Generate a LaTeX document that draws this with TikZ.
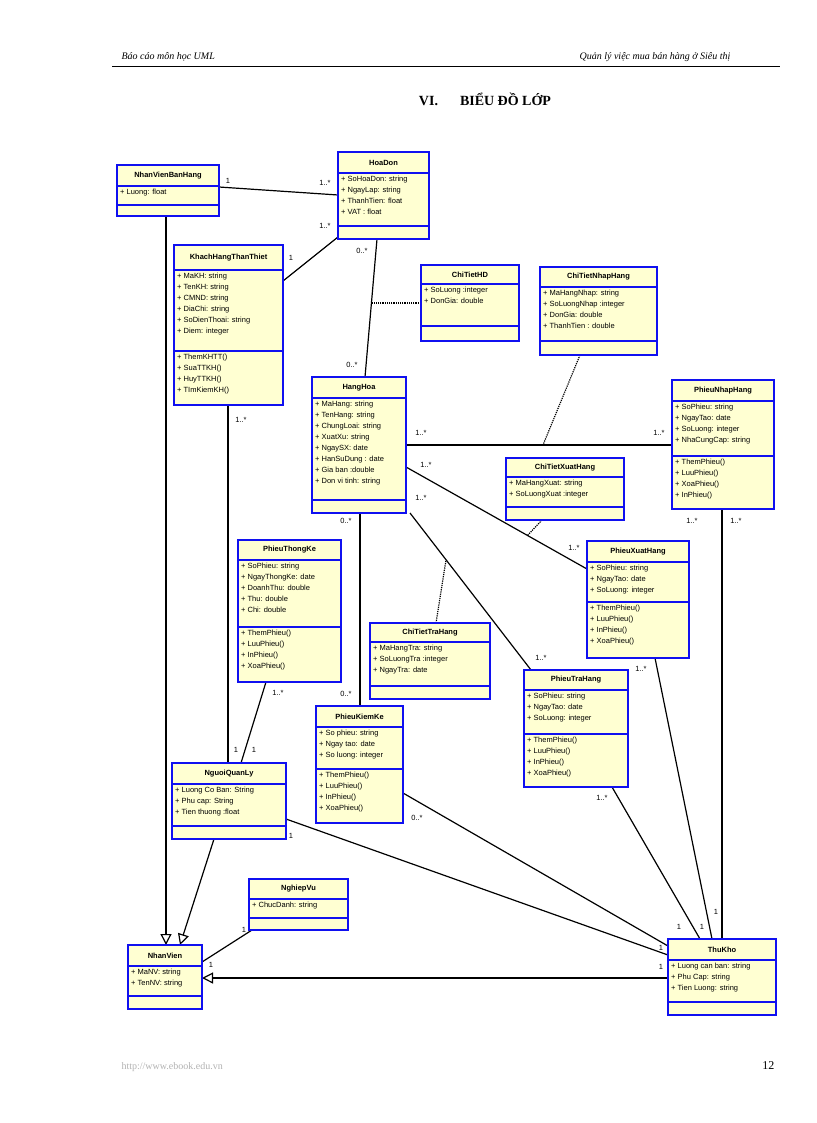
\documentclass[tikz,border=0pt]{standalone}
\usepackage{fontspec}
\setmainfont{Liberation Serif}
\newfontfamily\ar{Liberation Sans}
\usetikzlibrary{fit,arrows.meta}
\definecolor{fillc}{HTML}{FFFFD2}
\definecolor{bord}{HTML}{1010F0}
\tikzset{
 cbox/.style={fill=fillc,draw=bord,line width=1.3pt},
 ctitle/.style={font=\ar\fontsize{7.5}{9}\selectfont\bfseries,inner sep=0},
 ctext/.style={font=\ar\fontsize{7.5}{11}\selectfont,align=left,anchor=north west,inner sep=0},
 assoc/.style={line width=1.2pt},
 dep/.style={line width=1.2pt,densely dotted},
 gen/.style={line width=1.2pt,-{Triangle[open,length=11pt,width=11pt]}},
 lab/.style={font=\ar\fontsize{7.5}{9}\selectfont,inner sep=0}
}
\newcommand\cls[9]{%
 \path[cbox] (#2,#3) rectangle (#4,#7);
 \draw[draw=bord,line width=1.3pt] (#2,#5) -- (#4,#5) (#2,#6) -- (#4,#6);
 \node[fit={(#2,#3) (#4,#7)},inner sep=0] (#1) {};
 \node[ctitle] at ({(#2+#4)/2},{(#3+#5)/2}) {#8};
 \node[ctext] at (#2+3,#5+3) {#9};}
\newcommand\ops[3]{\node[ctext] at (#1+3,#2+3) {#3};}
\begin{document}
\begin{tikzpicture}[x=1pt,y=-1pt]
\useasboundingbox (0,0) rectangle (816,1123);
\node[anchor=base west,font=\itshape\fontsize{10}{12}\selectfont] (h1) at (118,60) {Báo cáo môn học UML};
\node[anchor=base east,font=\itshape\fontsize{10}{12}\selectfont] (h2) at (734,60) {Quản lý việc mua bán hàng ở Siêu thị};
\draw[line width=0.8pt] (112,66) -- (780,66);
\node[font=\bfseries\fontsize{14}{16}\selectfont] (tt) at (485,99) {VI.\hspace{22pt}BIỂU ĐỒ LỚP};
\node[anchor=base west,text=gray!60,font=\fontsize{10}{12}\selectfont] (ft) at (118,1069) {http://www.ebook.edu.vn};
\node[anchor=base east,font=\fontsize{12}{14}\selectfont] (pg) at (778,1069) {12};

% connectors first
\draw[assoc] (219,187) -- (338,195);
\draw[assoc] (283,281) -- (338,237);
\draw[assoc] (377,239) -- (365,377);
\draw[dep] (421,303) -- (371,303);
\draw[assoc] (406,445) -- (672,445);
\draw[dep] (580,355) -- (543,445);
\draw[assoc] (406,467) -- (587,569);
\draw[dep] (542,520) -- (527,536);
\draw[assoc] (410,513) -- (531,670);
\draw[dep] (436,623) -- (446,560);
\draw[assoc] (360,513) -- (360,706);
\draw[assoc] (228,405) -- (228,763);
\draw[assoc] (266,682) -- (241,763);
\draw[assoc] (286,819) -- (668,955);
\draw[assoc] (403,793) -- (668,946);
\draw[assoc] (612,787) -- (700,939);
\draw[assoc] (655,658) -- (712,939);
\draw[assoc] (722,509) -- (722,939);
\draw[gen] (668,978) -- (202,978);
\draw[gen] (166,216) -- (166,945);
\draw[gen] (214,839) -- (180,945);
\draw[assoc] (252,930) -- (202,962);

\cls{nvbh}{117}{165}{219}{186}{205}{216}{NhanVienBanHang}{+ Luong: float}
\cls{hd}{338}{152}{429}{173}{226}{239}{HoaDon}{+ SoHoaDon: string\\+ NgayLap: string\\+ ThanhTien: float\\+ VAT : float}
\cls{kh}{174}{245}{283}{270}{351}{405}{KhachHangThanThiet}{+ MaKH: string\\+ TenKH: string\\+ CMND: string\\+ DiaChi: string\\+ SoDienThoai: string\\+ Diem: integer}
\ops{174}{351}{+ ThemKHTT()\\+ SuaTTKH()\\+ HuyTTKH()\\+ TImKiemKH()}
\cls{cthd}{421}{265}{519}{284}{326}{341}{ChiTietHD}{+ SoLuong :integer\\+ DonGia: double}
\cls{ctnh}{540}{267}{657}{287}{341}{355}{ChiTietNhapHang}{+ MaHangNhap: string\\+ SoLuongNhap :integer\\+ DonGia: double\\+ ThanhTien : double}
\cls{hh}{312}{377}{406}{398}{500}{513}{HangHoa}{+ MaHang: string\\+ TenHang: string\\+ ChungLoai: string\\+ XuatXu: string\\+ NgaySX: date\\+ HanSuDung : date\\+ Gia ban :double\\+ Don vi tinh: string}
\cls{pnh}{672}{380}{774}{401}{456}{509}{PhieuNhapHang}{+ SoPhieu: string\\+ NgayTao: date\\+ SoLuong: integer\\+ NhaCungCap: string}
\ops{672}{456}{+ ThemPhieu()\\+ LuuPhieu()\\+ XoaPhieu()\\+ InPhieu()}
\cls{ctxh}{506}{458}{624}{477}{507}{520}{ChiTietXuatHang}{+ MaHangXuat: string\\+ SoLuongXuat :integer}
\cls{pxh}{587}{541}{689}{562}{602}{658}{PhieuXuatHang}{+ SoPhieu: string\\+ NgayTao: date\\+ SoLuong: integer}
\ops{587}{602}{+ ThemPhieu()\\+ LuuPhieu()\\+ InPhieu()\\+ XoaPhieu()}
\cls{ptk}{238}{540}{341}{560}{627}{682}{PhieuThongKe}{+ SoPhieu: string\\+ NgayThongKe: date\\+ DoanhThu: double\\+ Thu: double\\+ Chi: double}
\ops{238}{627}{+ ThemPhieu()\\+ LuuPhieu()\\+ InPhieu()\\+ XoaPhieu()}
\cls{ctth}{370}{623}{490}{642}{686}{699}{ChiTietTraHang}{+ MaHangTra: string\\+ SoLuongTra :integer\\+ NgayTra: date}
\cls{pth}{524}{670}{628}{690}{734}{787}{PhieuTraHang}{+ SoPhieu: string\\+ NgayTao: date\\+ SoLuong: integer}
\ops{524}{734}{+ ThemPhieu()\\+ LuuPhieu()\\+ InPhieu()\\+ XoaPhieu()}
\cls{pkk}{316}{706}{403}{727}{769}{823}{PhieuKiemKe}{+ So phieu: string\\+ Ngay tao: date\\+ So luong: integer}
\ops{316}{769}{+ ThemPhieu()\\+ LuuPhieu()\\+ InPhieu()\\+ XoaPhieu()}
\cls{nql}{172}{763}{286}{784}{826}{839}{NguoiQuanLy}{+ Luong Co Ban: String\\+ Phu cap: String\\+ Tien thuong :float}
\cls{nv2}{249}{879}{348}{899}{918}{930}{NghiepVu}{+ ChucDanh: string}
\cls{nv}{128}{945}{202}{966}{996}{1009}{NhanVien}{+ MaNV: string\\+ TenNV: string}
\cls{tk}{668}{939}{776}{960}{1002}{1015}{ThuKho}{+ Luong can ban: string\\+ Phu Cap: string\\+ Tien Luong: string}

% multiplicities
\node[lab] (m1) at (228,181) {1};
\node[lab] (m2) at (325,183) {1..*};
\node[lab] (m3) at (291,258) {1};
\node[lab] (m4) at (325,226) {1..*};
\node[lab] (m5) at (362,251) {0..*};
\node[lab] (m6) at (352,365) {0..*};
\node[lab] (m7) at (421,433) {1..*};
\node[lab] (m8) at (659,433) {1..*};
\node[lab] (m9) at (426,465) {1..*};
\node[lab] (m10) at (574,548) {1..*};
\node[lab] (m11) at (421,498) {1..*};
\node[lab] (m12) at (541,658) {1..*};
\node[lab] (m13) at (346,521) {0..*};
\node[lab] (m14) at (346,694) {0..*};
\node[lab] (m15) at (241,420) {1..*};
\node[lab] (m16) at (236,750) {1};
\node[lab] (m17) at (278,693) {1..*};
\node[lab] (m18) at (254,750) {1};
\node[lab] (m19) at (291,836) {1};
\node[lab] (m20) at (417,818) {0..*};
\node[lab] (m21) at (602,798) {1..*};
\node[lab] (m22) at (641,669) {1..*};
\node[lab] (m23) at (692,521) {1..*};
\node[lab] (m24) at (736,521) {1..*};
\node[lab] (m25) at (679,927) {1};
\node[lab] (m26) at (702,927) {1};
\node[lab] (m27) at (716,912) {1};
\node[lab] (m28) at (661,948) {1};
\node[lab] (m29) at (661,967) {1};
\node[lab] (m30) at (211,965) {1};
\node[lab] (m31) at (244,930) {1};
\end{tikzpicture}
\end{document}
